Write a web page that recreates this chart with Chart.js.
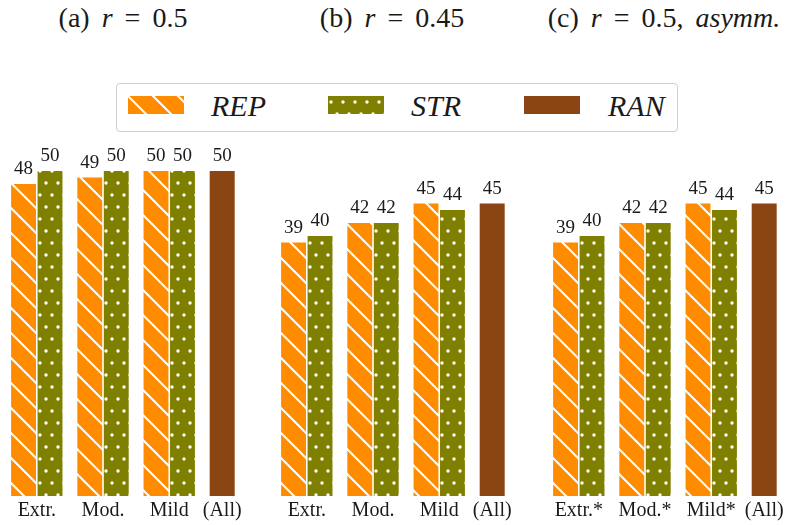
<!DOCTYPE html>
<html>
<head>
<meta charset="utf-8">
<script src="https://cdn.jsdelivr.net/npm/chart.js@4"></script>
<style>
  body { margin: 0; width: 792px; height: 525px; background: #fff; position: relative; overflow: hidden;
         font-family: "Liberation Serif", "DejaVu Serif", "Times New Roman", Times, serif; color: #1a1a1a; }
  .sub { position: absolute; top: 4px; width: 320px; text-align: center; font-size: 28px; line-height: 28px;
         white-space: pre; word-spacing: 5px; }
  .legend { position: absolute; left: 116px; top: 83px; width: 560px; height: 47px; border: 1.5px solid #cfcfcf;
            border-radius: 4px; }
  .legend canvas, .legend span { position: absolute; }
  .legend span { font-style: italic; font-size: 30px; line-height: 30px; top: 7px; }
  canvas.panel { position: absolute; top: 129px; }
</style>
</head>
<body>
<div class="sub" style="left:-37px">(a) <i>r</i> = 0.5</div>
<div class="sub" style="left:232px">(b) <i>r</i> = 0.45</div>
<div class="sub" style="left:504px">(c) <i>r</i> = 0.5, <i>asymm.</i></div>

<div class="legend">
  <canvas id="swRep" width="56" height="18" style="left:11px;top:12px"></canvas>
  <span style="left:94px">REP</span>
  <canvas id="swStr" width="56" height="18" style="left:211px;top:12px"></canvas>
  <span style="left:294px">STR</span>
  <canvas id="swRan" width="56" height="18" style="left:407px;top:12px"></canvas>
  <span style="left:491px">RAN</span>
</div>

<canvas class="panel" id="panelA" width="245" height="397" style="left:7px"></canvas>
<canvas class="panel" id="panelB" width="245" height="397" style="left:277px"></canvas>
<canvas class="panel" id="panelC" width="245" height="397" style="left:549px"></canvas>

<script>
// Data
const GROUPS = ["Extr.", "Mod.", "Mild", "(All)"];
const GROUPS_ASYM = ["Extr.*", "Mod.*", "Mild*", "(All)"];

const repA = [48, 49, 50];
const strA = [50, 50, 50];
const ranA = 50;

const repB = [39, 42, 45];
const strB = [40, 42, 44];
const ranB = 45;

const repC = [39, 42, 45];
const strC = [40, 42, 44];
const ranC = 45;

// Layout: where each group sits on the x axis (the (All) bar sits a bit closer)
const GROUP_POS = [0, 1, 2, 2.8];

const FONT = "'Liberation Serif', 'DejaVu Serif', serif";

const COLORS = {
  rep: "#ff8c00",
  str: "#808000",
  ran: "#8b4513",
  text: "#1a1a1a",
};

// Orange with white "\" hatching
function makeHatch() {
  const c = document.createElement("canvas");
  c.width = 25;
  c.height = 25;
  const g = c.getContext("2d");
  g.fillStyle = COLORS.rep;
  g.fillRect(0, 0, 25, 25);
  g.strokeStyle = "#fff";
  g.lineWidth = 2;
  g.beginPath();
  g.moveTo(-5, -5); g.lineTo(30, 30);
  g.moveTo(-5, 20); g.lineTo(5, 30);
  g.moveTo(20, -5); g.lineTo(30, 5);
  g.stroke();
  return g.createPattern(c, "repeat");
}

// Olive with staggered white dots
function makeDots() {
  const c = document.createElement("canvas");
  c.width = 12;
  c.height = 24;
  const g = c.getContext("2d");
  g.fillStyle = COLORS.str;
  g.fillRect(0, 0, 12, 24);
  g.fillStyle = "#fff";
  [[3, 6], [9, 18]].forEach(([x, y]) => {
    g.beginPath();
    g.arc(x, y, 1.7, 0, Math.PI * 2);
    g.fill();
  });
  return g.createPattern(c, "repeat");
}

const hatch = makeHatch();
const dots = makeDots();

// Legend swatches
function fillSwatch(id, style) {
  const g = document.getElementById(id).getContext("2d");
  g.fillStyle = style;
  g.fillRect(0, 0, 56, 18);
}
fillSwatch("swRep", hatch);
fillSwatch("swStr", dots);
fillSwatch("swRan", COLORS.ran);

// Numbers above the bars
const valueLabels = {
  id: "valueLabels",
  afterDatasetsDraw(chart) {
    const ctx = chart.ctx;
    ctx.save();
    ctx.font = "19px " + FONT;
    ctx.fillStyle = COLORS.text;
    ctx.textAlign = "center";
    ctx.textBaseline = "alphabetic";
    chart.data.datasets.forEach((ds, i) => {
      chart.getDatasetMeta(i).data.forEach((bar, j) => {
        const v = ds.data[j];
        if (v === null || v === undefined) return;
        ctx.fillText(String(v), bar.x, bar.y - 10);
      });
    });
    ctx.restore();
  },
};

function createPanel(id, names, rep, str, ran) {
  const ctx = document.getElementById(id).getContext("2d");
  return new Chart(ctx, {
    type: "bar",
    data: {
      labels: GROUP_POS,
      datasets: [
        { label: "REP", data: [...rep, null], backgroundColor: hatch },
        { label: "STR", data: [...str, null], backgroundColor: dots },
        { label: "RAN", data: [null, null, null, ran], backgroundColor: COLORS.ran },
      ],
    },
    options: {
      responsive: false,
      animation: false,
      layout: { padding: { top: 3, bottom: 0, left: 0, right: 0 } },
      datasets: {
        bar: { skipNull: true, categoryPercentage: 1, barPercentage: 0.94, maxBarThickness: 25 },
      },
      scales: {
        x: {
          type: "linear",
          offset: false,
          min: -0.45,
          max: 3.25,
          afterBuildTicks: (scale) => {
            scale.ticks = GROUP_POS.map((v) => ({ value: v }));
          },
          grid: { display: false, drawTicks: false, offset: false },
          border: { display: false },
          ticks: {
            autoSkip: false,
            maxRotation: 0,
            padding: 3,
            color: COLORS.text,
            font: { family: FONT, size: 20 },
            callback: (v, i) => names[i],
          },
        },
        y: { display: false, min: 0, max: 56 },
      },
      plugins: {
        legend: { display: false },
        tooltip: { enabled: false },
      },
    },
    plugins: [valueLabels],
  });
}

createPanel("panelA", GROUPS, repA, strA, ranA);
createPanel("panelB", GROUPS, repB, strB, ranB);
createPanel("panelC", GROUPS_ASYM, repC, strC, ranC);
</script>
</body>
</html>
